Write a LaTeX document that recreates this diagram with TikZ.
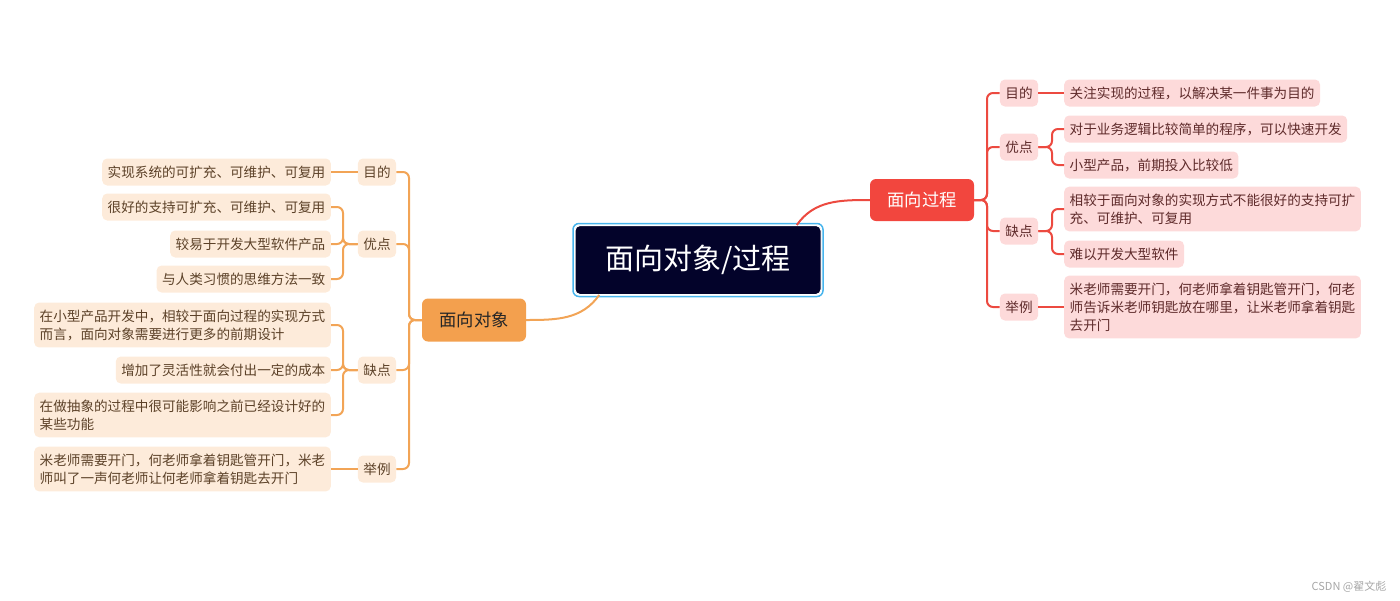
\documentclass[tikz,border=0pt]{standalone}
\usepackage{fontspec}
\setmainfont{Noto Sans CJK SC}
\usepackage{xcolor}
\usetikzlibrary{calc}

\definecolor{rootfill}{HTML}{03032A}
\definecolor{rootrim}{HTML}{48B4EC}
\definecolor{objfill}{HTML}{F3A04E}
\definecolor{objline}{HTML}{F2A456}
\definecolor{objpale}{HTML}{FDEBDA}
\definecolor{objtext}{HTML}{5C4128}
\definecolor{procfill}{HTML}{F2463E}
\definecolor{procline}{HTML}{EC4A40}
\definecolor{procpale}{HTML}{FDDADA}
\definecolor{proctext}{HTML}{5E2A2A}

\tikzset{
  root/.style={fill=rootfill, draw=white, line width=1pt, text=white, rounded corners=5pt,
    minimum width=246pt, minimum height=69pt, inner sep=0pt, font=\fontsize{29}{34}\selectfont},
  topic/.style={rounded corners=6pt, minimum width=104pt, minimum height=43pt, inner sep=0pt,
    font=\fontsize{17.3}{20}\selectfont},
  tag/.style={rounded corners=5pt, minimum height=27pt, inner xsep=5.5pt, inner ysep=4pt,
    font=\fontsize{13.6}{18}\selectfont},
  leaf/.style={tag, align=left, inner ysep=7pt},
  objtag/.style={tag, fill=objpale, text=objtext},
  objleaf/.style={leaf, fill=objpale, text=objtext, anchor=east},
  proctag/.style={tag, fill=procpale, text=proctext},
  procleaf/.style={leaf, fill=procpale, text=proctext, anchor=west},
  objlink/.style={draw=objline, line width=2pt, rounded corners=6pt},
  proclink/.style={draw=procline, line width=2pt, rounded corners=6pt}
}

\begin{document}
\begin{tikzpicture}[x=1pt, y=1pt]
  \useasboundingbox (0,0) rectangle (1400,-600);

  % centre
  \node[root] (root) at (698,-260) {面向对象/过程};
  \draw[rootrim, line width=1.5pt, rounded corners=6pt]
    ($(root.south west)+(-1.5,-1.5)$) rectangle ($(root.north east)+(1.5,1.5)$);

  % main topics
  \node[topic, fill=objfill, text=black!85] (obj) at (474,-320) {面向对象};
  \node[topic, fill=procfill, text=white, minimum height=42pt] (proc) at (922,-200) {面向过程};

  \draw[objlink] ($(root.south west)!0.1!(root.south east)$) to[out=-125, in=0] (obj.east);
  \draw[proclink] ($(root.north west)!0.9!(root.north east)$) to[out=55, in=180] (proc.west);

  %---- 面向对象 ----
  \node[objtag] (obj-goal) at (377,-172) {目的};
  \node[objtag] (obj-pro)  at (377,-244) {优点};
  \node[objtag] (obj-con)  at (377,-370) {缺点};
  \node[objtag] (obj-case) at (377,-469) {举例};

  \node[objleaf] (obj-goal-1) at (331,-172) {实现系统的可扩充、可维护、可复用};
  \node[objleaf] (obj-pro-1)  at (331,-207) {很好的支持可扩充、可维护、可复用};
  \node[objleaf] (obj-pro-2)  at (331,-244) {较易于开发大型软件产品};
  \node[objleaf] (obj-pro-3)  at (331,-279) {与人类习惯的思维方法一致};
  \node[objleaf] (obj-con-1)  at (331,-325) {在小型产品开发中，相较于面向过程的实现方式\\而言，面向对象需要进行更多的前期设计};
  \node[objleaf] (obj-con-2)  at (331,-370) {增加了灵活性就会付出一定的成本};
  \node[objleaf] (obj-con-3)  at (331,-415) {在做抽象的过程中很可能影响之前已经设计好的\\某些功能};
  \node[objleaf] (obj-case-1) at (331,-469) {米老师需要开门，何老师拿着钥匙管开门，米老\\师叫了一声何老师让何老师拿着钥匙去开门};

  \foreach \k in {goal,pro,con,case}
    \draw[objlink] (obj.west) -- (409,-320) |- (obj-\k.east);
  \draw[objlink] (obj-goal.west) -- (obj-goal-1.east);
  \foreach \i in {1,2,3}{
    \draw[objlink] (obj-pro.west) -- (343,-244) |- (obj-pro-\i.east);
    \draw[objlink] (obj-con.west) -- (343,-370) |- (obj-con-\i.east);
  }
  \draw[objlink] (obj-case.west) -- (obj-case-1.east);

  %---- 面向过程 ----
  \node[proctag] (proc-goal) at (1019,-93)  {目的};
  \node[proctag] (proc-pro)  at (1019,-147) {优点};
  \node[proctag] (proc-con)  at (1019,-231) {缺点};
  \node[proctag] (proc-case) at (1019,-307) {举例};

  \node[procleaf] (proc-goal-1) at (1064,-93)  {关注实现的过程，以解决某一件事为目的};
  \node[procleaf] (proc-pro-1)  at (1064,-129) {对于业务逻辑比较简单的程序，可以快速开发};
  \node[procleaf] (proc-pro-2)  at (1064,-165) {小型产品，前期投入比较低};
  \node[procleaf] (proc-con-1)  at (1064,-209) {相较于面向对象的实现方式不能很好的支持可扩\\充、可维护、可复用};
  \node[procleaf] (proc-con-2)  at (1064,-254) {难以开发大型软件};
  \node[procleaf] (proc-case-1) at (1064,-307) {米老师需要开门，何老师拿着钥匙管开门，何老\\师告诉米老师钥匙放在哪里，让米老师拿着钥匙\\去开门};

  \foreach \k in {goal,pro,con,case}
    \draw[proclink] (proc.east) -- (987,-200) |- (proc-\k.west);
  \draw[proclink] (proc-goal.east) -- (proc-goal-1.west);
  \foreach \i in {1,2}{
    \draw[proclink] (proc-pro.east) -- (1052,-147) |- (proc-pro-\i.west);
    \draw[proclink] (proc-con.east) -- (1052,-231) |- (proc-con-\i.west);
  }
  \draw[proclink] (proc-case.east) -- (proc-case-1.west);

  % watermark
  \node[font=\fontsize{11}{13}\selectfont, text=black!35] (mark) at (1349,-587) {CSDN @翟文彪};
\end{tikzpicture}
\end{document}
